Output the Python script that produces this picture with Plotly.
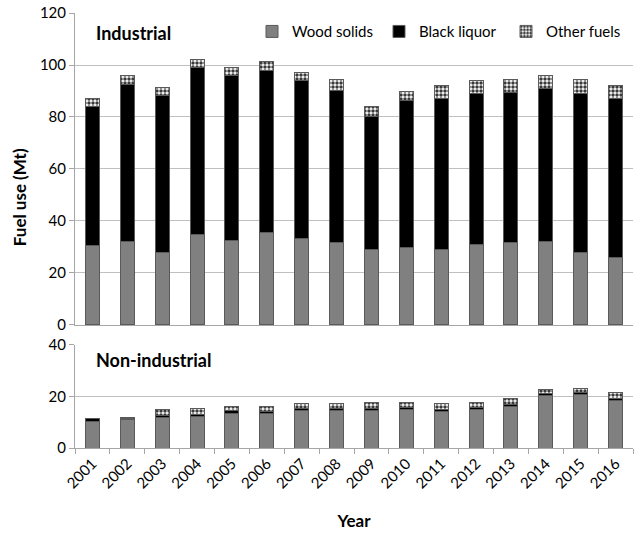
import plotly.graph_objects as go
from plotly.subplots import make_subplots

years = ["2001", "2002", "2003", "2004", "2005", "2006", "2007", "2008",
         "2009", "2010", "2011", "2012", "2013", "2014", "2015", "2016"]

# Industrial (Mt)
ind_wood = [30.6, 32.3, 28.0, 34.8, 32.6, 35.5, 33.2, 31.6,
            28.9, 29.7, 28.9, 30.9, 31.6, 32.2, 27.7, 25.9]
ind_black = [53.6, 60.2, 60.1, 64.4, 63.4, 62.5, 60.9, 58.7,
             51.1, 56.7, 58.4, 58.3, 58.0, 58.7, 61.5, 61.4]
ind_other = [2.9, 3.3, 3.2, 3.0, 3.0, 3.5, 3.2, 4.1,
             4.1, 3.6, 4.8, 4.9, 4.8, 5.1, 5.2, 4.8]

# Non-industrial (Mt)
non_wood = [10.1, 11.0, 11.8, 12.3, 13.5, 13.3, 14.5, 14.5,
            14.5, 14.8, 14.1, 14.8, 16.1, 20.2, 20.6, 18.4]
non_black = [1.2, 0.4, 0.9, 0.8, 0.9, 1.0, 0.9, 0.9,
             0.9, 0.9, 1.0, 0.9, 0.9, 0.8, 0.9, 0.9]
non_other = [0.1, 0.4, 2.4, 2.3, 1.7, 1.8, 2.0, 2.0,
             2.4, 2.1, 2.3, 2.1, 2.3, 1.6, 1.8, 2.4]

FONT = "Lato"
GRID = "#c0c0c0"
AXIS = "#a6a6a6"
EDGE = "#5a5a5a"

fig = make_subplots(rows=2, cols=1)

styles = {
    "Wood solids": dict(color="#808080", line=dict(color=EDGE, width=1)),
    "Black liquor": dict(color="#000000", line=dict(color=EDGE, width=1)),
    "Other fuels": dict(color="#ffffff", line=dict(color=EDGE, width=1),
                        pattern=dict(shape=".", fgcolor="#3a3a3a", bgcolor="#ffffff",
                                     size=4, solidity=0.6, fillmode="replace")),
}

for row, data in ((1, (ind_wood, ind_black, ind_other)), (2, (non_wood, non_black, non_other))):
    for name, vals in zip(["Wood solids", "Black liquor", "Other fuels"], data):
        fig.add_trace(go.Bar(x=years, y=vals, name=name, marker=styles[name],
                             showlegend=(row == 1), legendgroup=name), row=row, col=1)

fig.update_layout(
    barmode="stack", bargap=0.6,
    width=640, height=533,
    margin=dict(l=75, r=7, t=13, b=85),
    paper_bgcolor="white", plot_bgcolor="white",
    font=dict(family=FONT, size=15, color="#000000"),
    legend=dict(orientation="h", x=1.0, xanchor="right", y=0.995, yanchor="top",
                font=dict(size=15), bgcolor="rgba(0,0,0,0)", traceorder="normal",
                itemwidth=30, entrywidth=82, entrywidthmode="pixels"),
)

fig.update_xaxes(type="category", showgrid=False, showline=True, linecolor=AXIS,
                 linewidth=1, tickson="boundaries", tickangle=-45, tickfont=dict(size=15),
                 ticks="outside", ticklen=5, tickcolor=AXIS, automargin=False)
fig.update_xaxes(row=1, col=1, showticklabels=False, ticks="")
fig.update_xaxes(row=2, col=1, title=dict(text="<b>Year</b>", font=dict(size=17), standoff=24))

fig.update_yaxes(showgrid=True, gridcolor=GRID, gridwidth=1, showline=True, linecolor=AXIS,
                 ticks="outside", ticklen=5, tickcolor=AXIS, tickfont=dict(size=15),
                 zeroline=False, dtick=20, automargin=False)
fig.update_yaxes(row=1, col=1, range=[0, 120], domain=[0.2828, 1.0])
fig.update_yaxes(row=2, col=1, range=[0, 40], domain=[0.0, 0.2368])

fig.add_annotation(text="<b>Industrial</b>", xref="paper", yref="paper", x=0.034, y=0.985,
                   xanchor="left", yanchor="top", showarrow=False, font=dict(size=18))
fig.add_annotation(text="<b>Non-industrial</b>", xref="paper", yref="paper", x=0.034, y=0.232,
                   xanchor="left", yanchor="top", showarrow=False, font=dict(size=18))
fig.add_annotation(text="<b>Fuel use (Mt)</b>", xref="paper", yref="paper", x=-0.1, y=0.577,
                   xanchor="center", yanchor="middle", textangle=-90, showarrow=False,
                   font=dict(size=17))

fig.write_html("out.html", config={"displayModeBar": False},
               post_script="document.body.style.margin='0';document.body.style.overflow='hidden';")
